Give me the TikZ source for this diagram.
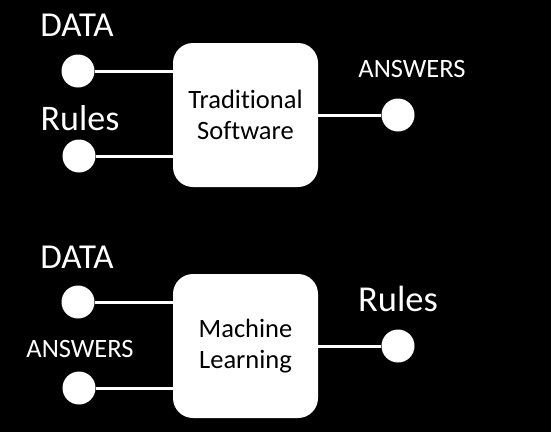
\documentclass[tikz,border=0pt]{standalone}
\usepackage{fontspec}
\setmainfont{Carlito}[Ligatures=NoCommon]
\begin{document}
\begin{tikzpicture}[x=1pt,y=-1pt,
  port/.style={circle,fill=white,minimum size=33pt,inner sep=0pt},
  proc/.style={rounded corners=20pt,fill=white,minimum width=145pt,minimum height=144pt,align=center,font=\fontsize{26.5}{31}\selectfont},
  wire/.style={draw=white,line width=3pt},
  lbl/.style={text=white,inner sep=0pt}]
\fill[black] (0,0) rectangle (551,432);
\useasboundingbox (0,0) rectangle (551,432);
% traditional software
\node[proc] (trad) at (245.5,115) {Traditional\\Software};
\node[port] (tdata) at (78,71) {};
\node[port] (trules) at (79,156) {};
\node[port] (tans) at (398,115) {};
\draw[wire] (tdata) -- (tdata -| trad.west);
\draw[wire] (trules) -- (trules -| trad.west);
\draw[wire] (trad.east) -- (tans);
\node[lbl,font=\fontsize{35}{38}\selectfont] (tdatalbl) at (77,25) {DATA};
\node[lbl,font=\fontsize{36}{38}\selectfont] (truleslbl) at (80,118) {Rules};
\node[lbl,font=\fontsize{26.5}{30}\selectfont] (tanslbl) at (412,69) {ANSWERS};
% machine learning
\node[proc] (ml) at (245.5,346) {Machine\\Learning};
\node[port] (mdata) at (78,302) {};
\node[port] (mans) at (79,388) {};
\node[port] (mrules) at (398,346) {};
\draw[wire] (mdata) -- (mdata -| ml.west);
\draw[wire] (mans) -- (mans -| ml.west);
\draw[wire] (ml.east) -- (mrules);
\node[lbl,font=\fontsize{35}{38}\selectfont] (mdatalbl) at (77,257) {DATA};
\node[lbl,font=\fontsize{26.5}{30}\selectfont] (manslbl) at (80,349) {ANSWERS};
\node[lbl,font=\fontsize{36.5}{38}\selectfont] (mruleslbl) at (398,299) {Rules};
\end{tikzpicture}
\end{document}
